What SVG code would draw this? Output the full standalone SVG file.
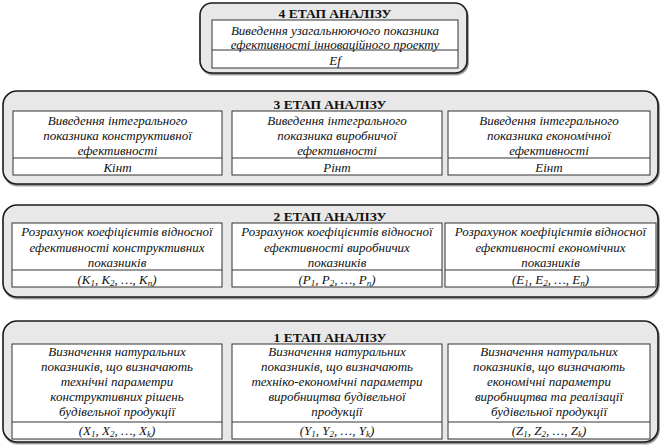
<svg xmlns="http://www.w3.org/2000/svg" width="660" height="446" viewBox="0 0 660 446">
<style>
.stage{fill:#e8e8e8;stroke:#1a1a1a;stroke-width:1.6}
.box{fill:#fff;stroke:#333;stroke-width:1}
.ln{stroke:#333;stroke-width:1}
text{font-family:'Liberation Serif','DejaVu Serif',serif;fill:#111;text-anchor:middle}
.t{font-style:italic;font-size:13px}
.h{font-weight:bold;font-size:13.5px}
.s{font-size:9px}
</style>
<defs>
<filter id="sh" x="-5%" y="-5%" width="110%" height="115%"><feDropShadow dx="1" dy="1.5" stdDeviation="0.6" flood-color="#000" flood-opacity="0.45"/></filter>
</defs>

<g id="stage4">
<rect class="stage" x="200" y="3" width="267" height="70" rx="12" filter="url(#sh)"/>
<text class="h" x="335" y="18">4 ЕТАП АНАЛІЗУ</text>
<rect class="box" x="212" y="20" width="246" height="48"/>
<line class="ln" x1="212" y1="50" x2="458" y2="50"/>
<text class="t" x="335" y="35">Виведення узагальнюючого показника</text>
<text class="t" x="335" y="48.5">ефективності інноваційного проекту</text>
<text class="t" x="335" y="64.5">Ef</text>
</g>

<g id="stage3">
<rect class="stage" x="3" y="91" width="655" height="93" rx="14" filter="url(#sh)"/>
<text class="h" x="330" y="109">3 ЕТАП АНАЛІЗУ</text>
<g id="s3b1">
<rect class="box" x="13" y="111" width="209" height="64"/>
<line class="ln" x1="13" y1="158" x2="222" y2="158"/>
<text class="t" x="117.5" y="125">Виведення інтегрального</text>
<text class="t" x="117.5" y="140">показника конструктивної</text>
<text class="t" x="117.5" y="155">ефективності</text>
<text class="t" x="117.5" y="171.5">Кінт</text>
</g>
<g id="s3b2">
<rect class="box" x="232" y="111" width="210" height="64"/>
<line class="ln" x1="232" y1="158" x2="442" y2="158"/>
<text class="t" x="337" y="125">Виведення інтегрального</text>
<text class="t" x="337" y="140">показника виробничої</text>
<text class="t" x="337" y="155">ефективності</text>
<text class="t" x="337" y="171.5">Рінт</text>
</g>
<g id="s3b3">
<rect class="box" x="448" y="111" width="202" height="64"/>
<line class="ln" x1="448" y1="158" x2="650" y2="158"/>
<text class="t" x="549" y="125">Виведення інтегрального</text>
<text class="t" x="549" y="140">показника економічної</text>
<text class="t" x="549" y="155">ефективності</text>
<text class="t" x="549" y="171.5">Еінт</text>
</g>
</g>

<g id="stage2">
<rect class="stage" x="3" y="205" width="655" height="92" rx="14" filter="url(#sh)"/>
<text class="h" x="330" y="221">2 ЕТАП АНАЛІЗУ</text>
<g id="s2b1">
<rect class="box" x="12" y="223" width="210" height="64"/>
<line class="ln" x1="12" y1="270" x2="222" y2="270"/>
<text class="t" x="117" y="236">Розрахунок коефіцієнтів відносної</text>
<text class="t" x="117" y="251.5">ефективності конструктивних</text>
<text class="t" x="117" y="266.5">показників</text>
<text class="t" x="117" y="283.5">(K<tspan class="s" dy="2">1</tspan><tspan dy="-2">, K</tspan><tspan class="s" dy="2">2</tspan><tspan dy="-2">, …, K</tspan><tspan class="s" dy="2">n</tspan><tspan dy="-2">)</tspan></text>
</g>
<g id="s2b2">
<rect class="box" x="232" y="223" width="210" height="64"/>
<line class="ln" x1="232" y1="270" x2="442" y2="270"/>
<text class="t" x="337" y="236">Розрахунок коефіцієнтів відносної</text>
<text class="t" x="337" y="251.5">ефективності виробничих</text>
<text class="t" x="337" y="266.5">показників</text>
<text class="t" x="337" y="283.5">(P<tspan class="s" dy="2">1</tspan><tspan dy="-2">, P</tspan><tspan class="s" dy="2">2</tspan><tspan dy="-2">, …, P</tspan><tspan class="s" dy="2">n</tspan><tspan dy="-2">)</tspan></text>
</g>
<g id="s2b3">
<rect class="box" x="445" y="223" width="211" height="64"/>
<line class="ln" x1="445" y1="270" x2="656" y2="270"/>
<text class="t" x="550.5" y="236">Розрахунок коефіцієнтів відносної</text>
<text class="t" x="550.5" y="251.5">ефективності економічних</text>
<text class="t" x="550.5" y="266.5">показників</text>
<text class="t" x="550.5" y="283.5">(E<tspan class="s" dy="2">1</tspan><tspan dy="-2">, E</tspan><tspan class="s" dy="2">2</tspan><tspan dy="-2">, …, E</tspan><tspan class="s" dy="2">n</tspan><tspan dy="-2">)</tspan></text>
</g>
</g>

<g id="stage1">
<rect class="stage" x="3" y="321" width="655" height="121" rx="14" filter="url(#sh)"/>
<text class="h" x="330" y="341.5">1 ЕТАП АНАЛІЗУ</text>
<g id="s1b1">
<rect class="box" x="12" y="344" width="210" height="95"/>
<line class="ln" x1="12" y1="422" x2="222" y2="422"/>
<text class="t" x="117" y="356">Визначення натуральних</text>
<text class="t" x="117" y="371">показників, що визначають</text>
<text class="t" x="117" y="386">технічні параметри</text>
<text class="t" x="117" y="401">конструктивних рішень</text>
<text class="t" x="117" y="416">будівельної продукції</text>
<text class="t" x="117" y="435">(X<tspan class="s" dy="2">1</tspan><tspan dy="-2">, X</tspan><tspan class="s" dy="2">2</tspan><tspan dy="-2">, …, X</tspan><tspan class="s" dy="2">k</tspan><tspan dy="-2">)</tspan></text>
</g>
<g id="s1b2">
<rect class="box" x="232" y="344" width="210" height="95"/>
<line class="ln" x1="232" y1="422" x2="442" y2="422"/>
<text class="t" x="337" y="356">Визначення натуральних</text>
<text class="t" x="337" y="371">показників, що визначають</text>
<text class="t" x="337" y="386">техніко-економічні параметри</text>
<text class="t" x="337" y="401">виробництва будівельної</text>
<text class="t" x="337" y="416">продукції</text>
<text class="t" x="337" y="435">(Y<tspan class="s" dy="2">1</tspan><tspan dy="-2">, Y</tspan><tspan class="s" dy="2">2</tspan><tspan dy="-2">, …, Y</tspan><tspan class="s" dy="2">k</tspan><tspan dy="-2">)</tspan></text>
</g>
<g id="s1b3">
<rect class="box" x="448" y="344" width="202" height="95"/>
<line class="ln" x1="448" y1="422" x2="650" y2="422"/>
<text class="t" x="549" y="356">Визначення натуральних</text>
<text class="t" x="549" y="371">показників, що визначають</text>
<text class="t" x="549" y="386">економічні параметри</text>
<text class="t" x="549" y="401">виробництва та реалізації</text>
<text class="t" x="549" y="416">будівельної продукції</text>
<text class="t" x="549" y="435">(Z<tspan class="s" dy="2">1</tspan><tspan dy="-2">, Z</tspan><tspan class="s" dy="2">2</tspan><tspan dy="-2">, …, Z</tspan><tspan class="s" dy="2">k</tspan><tspan dy="-2">)</tspan></text>
</g>
</g>
</svg>
